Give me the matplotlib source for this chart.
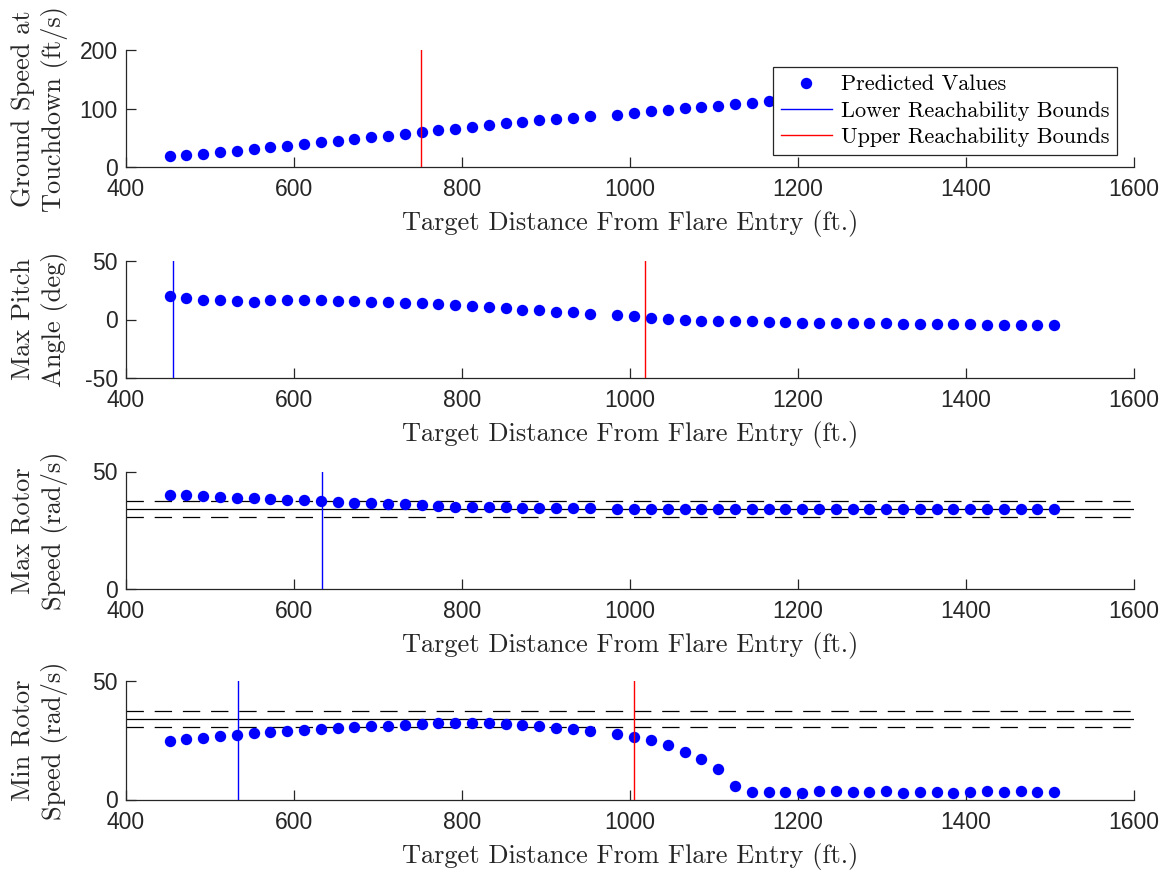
import matplotlib
matplotlib.use("Agg")
import matplotlib.pyplot as plt
from matplotlib.lines import Line2D

plt.rcParams['axes.unicode_minus'] = False
plt.rcParams['lines.scale_dashes'] = False

# ---------------- data ----------------
x_left = [452, 472, 492, 512, 532, 552, 572, 592, 612, 632, 652, 672, 692,
          712, 732, 752, 772, 792, 812, 832, 852, 872, 892, 912, 932, 952]
x_right = [985, 1005, 1025, 1045, 1065, 1085, 1105, 1125, 1145, 1165, 1185,
           1205, 1225, 1245, 1265, 1285, 1305, 1325, 1345, 1365, 1385, 1405,
           1425, 1445, 1465, 1485, 1505]
target_distance = x_left + x_right

ground_speed = [18.8, 20.9, 23.0, 25.6, 28.4, 30.7, 34.0, 37.0, 39.8, 42.6, 45.5,
                48.3, 51.7, 54.0, 56.8, 60.2, 63.0, 65.9, 68.8, 71.6, 75.0, 77.3,
                80.0, 83.0, 84.7, 87.5,
                89.2, 92.0, 95.5, 97.0, 100.6, 102.3, 105.0, 108.0, 110.2, 113.0,
                115.5, 118.0, 120.5, 123.0, 125.0, 127.5, 130.0, 132.0, 134.5,
                136.5, 139.0, 141.0, 143.0, 145.0, 147.0, 149.0, 151.0]

max_pitch = [20.5, 18.5, 17.0, 16.5, 15.6, 14.8, 16.5, 16.5, 16.5, 16.5, 16.2,
             15.6, 15.3, 15.0, 14.5, 13.9, 13.0, 12.2, 11.4, 10.5, 9.7, 8.5,
             8.0, 6.8, 6.3, 5.1,
             3.9, 2.7, 1.7, 0.4, -0.6, -0.9, -1.1, -1.4, -1.7, -2.0, -2.0,
             -2.6, -2.6, -2.8, -3.1, -3.1, -3.4, -3.7, -3.7, -3.7, -4.0, -4.0,
             -4.3, -4.3, -4.5, -4.8, -4.8]

max_rotor = [40.1, 39.8, 39.5, 39.2, 38.9, 38.7, 38.2, 37.9, 37.7, 37.4, 37.1,
             36.8, 36.5, 36.3, 36.0, 35.7, 35.4, 35.1, 35.0, 34.8, 34.7, 34.6,
             34.4, 34.4, 34.4, 34.3,
             34.1, 34.1, 34.1, 34.1, 34.1, 34.1, 34.1, 34.1, 34.1, 34.1, 34.1,
             34.1, 34.1, 34.1, 34.1, 34.1, 34.1, 34.1, 34.1, 34.1, 34.1, 34.1,
             34.1, 34.1, 34.1, 34.1, 34.1]

min_rotor = [24.8, 25.5, 26.1, 26.6, 27.2, 27.9, 28.6, 29.1, 29.5, 29.8, 30.1,
             30.5, 30.9, 31.2, 31.5, 31.8, 32.1, 32.2, 32.4, 32.2, 31.9, 31.5,
             30.9, 30.3, 29.7, 28.9,
             27.7, 26.3, 24.9, 22.8, 20.2, 17.0, 13.0, 5.9, 3.0, 3.2, 3.1,
             2.8, 3.4, 3.5, 3.1, 3.0, 3.4, 2.8, 3.2, 3.1, 2.7, 3.1,
             3.4, 3.0, 3.4, 3.0, 3.0]

lower_bounds = [None, 456, 633, 533]
upper_bounds = [751, 1018, None, 1005]

nominal_rotor = 34.1
rotor_tolerance = 0.10

ylabels = ["Ground Speed at\nTouchdown (ft/s)", "Max Pitch\nAngle (deg)",
           "Max Rotor\nSpeed (rad/s)", "Min Rotor\nSpeed (rad/s)"]
ylims = [(0, 200), (-50, 50), (0, 50), (0, 50)]
yticks = [[0, 100, 200], [-50, 0, 50], [0, 50], [0, 50]]
xticks = [400, 600, 800, 1000, 1200, 1400, 1600]
xlabel = "Target Distance From Flare Entry (ft.)"
series = [ground_speed, max_pitch, max_rotor, min_rotor]
legend_labels = ["Predicted Values", "Lower Reachability Bounds",
                 "Upper Reachability Bounds"]

# ---------------- figure ----------------
W, H = 1173, 874
fig = plt.figure(figsize=(W / 100, H / 100), dpi=100)

panel_px = [(50, 167.3), (261, 378), (471.5, 589), (681, 799.5)]
left_px, right_px = 126, 1134

serif = 'cmr10'
sans = 'Liberation Sans'
axcol = '#262626'
dash = (0, (12.5, 7.8))

for i in range(4):
    top, bot = panel_px[i]
    ax = fig.add_axes([left_px / W, 1 - bot / H, (right_px - left_px) / W, (bot - top) / H])
    ax.set_xlim(400, 1600)
    ax.set_ylim(*ylims[i])
    ax.set_xticks(xticks)
    ax.set_yticks(yticks[i])
    for s in ['top', 'right']:
        ax.spines[s].set_visible(False)
    for s in ['left', 'bottom']:
        ax.spines[s].set_color(axcol)
        ax.spines[s].set_linewidth(0.9)
    ax.tick_params(direction='in', length=7.5, width=0.9, color=axcol,
                   labelcolor=axcol, labelsize=16.5)
    ax.tick_params(axis='x', pad=8)
    ax.tick_params(axis='y', pad=6)
    for lab in ax.get_xticklabels() + ax.get_yticklabels():
        lab.set_fontfamily(sans)

    if i >= 2:
        ax.axhline(nominal_rotor, color='k', lw=0.9, zorder=1)
        ax.axhline(nominal_rotor * (1 + rotor_tolerance), color='k', lw=0.9,
                   ls=dash, zorder=1)
        ax.axhline(nominal_rotor * (1 - rotor_tolerance), color='k', lw=0.9,
                   ls=dash, zorder=1)

    ax.plot(target_distance, series[i], 'o', color='#0000ff', markersize=8.2,
            markeredgewidth=0, zorder=2)
    if lower_bounds[i] is not None:
        ax.axvline(lower_bounds[i], color='#0000ff', lw=1.0, zorder=3)
    if upper_bounds[i] is not None:
        ax.axvline(upper_bounds[i], color='#ff0000', lw=1.0, zorder=3)

    ax.set_xlabel(xlabel, fontfamily=serif, fontsize=19, color=axcol)
    ax.xaxis.set_label_coords(0.5, -0.365)
    ax.set_ylabel(ylabels[i], fontfamily=serif, fontsize=19, color=axcol,
                  linespacing=1.3)
    ax.yaxis.set_label_coords(-0.058, 0.5)

    if i == 0:
        handles = [
            Line2D([], [], ls='none', marker='o', color='#0000ff', markersize=8.2,
                   markeredgewidth=0),
            Line2D([], [], color='#0000ff', lw=1.0),
            Line2D([], [], color='#ff0000', lw=1.0),
        ]
        leg = ax.legend(handles, legend_labels, loc='upper right',
                        bbox_to_anchor=(0.983, 0.855), frameon=True, fancybox=False,
                        framealpha=1.0, facecolor='white',
                        prop={'family': serif, 'size': 16}, handlelength=2.3,
                        handletextpad=0.4, borderpad=0.35, labelspacing=0.3,
                        borderaxespad=0)
        leg.get_frame().set_edgecolor(axcol)
        leg.get_frame().set_linewidth(0.9)
        leg.set_zorder(10)

fig.savefig("out.png", dpi=100)
